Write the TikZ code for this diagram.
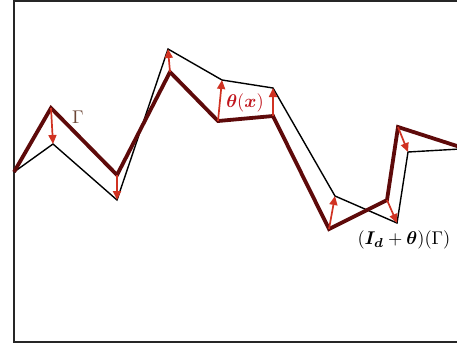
\documentclass[tikz,border=0pt]{standalone}
\usepackage{amsmath,bm}
\usetikzlibrary{arrows.meta}
\definecolor{gammared}{HTML}{5E0A0A}
\definecolor{arrred}{HTML}{D03222}
\definecolor{gammalbl}{HTML}{6A4434}
\definecolor{thetared}{HTML}{C0141C}
\tikzset{
  frame/.style={draw=black!85, line width=1.6bp},
  gam/.style={draw=gammared, line width=3.8bp, line join=miter},
  def/.style={draw=black, line width=1.4bp},
  disp/.style={draw=arrred, line width=1.7bp, -{Triangle[length=9bp,width=8bp]}},
  lbl/.style={inner sep=0pt, scale=1.85}
}
\begin{document}
\begin{tikzpicture}[x=1bp,y=-1bp]
\useasboundingbox (0,0) rectangle (457,345);
% frame
\draw[frame] (458,1) -- (14,1) -- (14,342) -- (458,342);
% Gamma points
\coordinate (p1) at (14,172);
\coordinate (p2) at (51,108);
\coordinate (p3) at (117,175);
\coordinate (p4) at (170,72);
\coordinate (p5) at (218,121);
\coordinate (p6) at (273,116);
\coordinate (p7) at (329,229);
\coordinate (p8) at (387,200);
\coordinate (p9) at (398,127);
\coordinate (p10) at (460,147);
% deformed points
\coordinate (q1) at (14,172);
\coordinate (q2) at (53,144);
\coordinate (q3) at (117,200);
\coordinate (q4) at (168,49);
\coordinate (q5) at (222,80);
\coordinate (q6) at (273,88);
\coordinate (q7) at (335,196);
\coordinate (q8) at (397,223);
\coordinate (q9) at (408,152);
\coordinate (q10) at (460,149);
% deformed curve
\draw[def] (q1) -- (q2) -- (q3) -- (q4) -- (q5) -- (q6) -- (q7) -- (q8) -- (q9) -- (q10);
% Gamma curve
\draw[gam] (p1) -- (p2) -- (p3) -- (p4) -- (p5) -- (p6) -- (p7) -- (p8) -- (p9) -- (p10);
% displacement arrows
\foreach \i in {2,...,9} { \draw[disp] (p\i) -- (q\i); }
% labels
\node[lbl, text=gammalbl] (lgam) at (78,117) {$\Gamma$};
\node[lbl, text=thetared] (ltheta) at (245,103) {$\bm{\theta}(\bm{x})$};
\node[lbl, text=black] (limg) at (404,240) {$(\bm{I_d}+\bm{\theta})(\Gamma)$};
\end{tikzpicture}
\end{document}
